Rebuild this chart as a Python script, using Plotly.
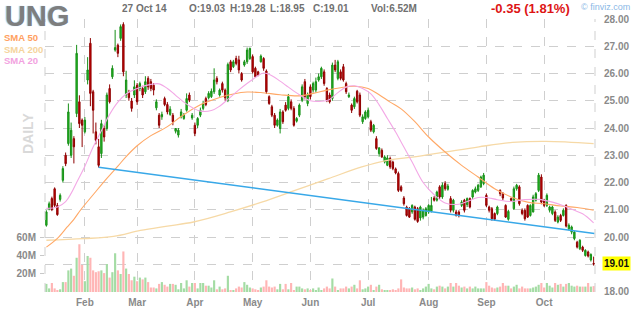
import numpy as np
import pandas as pd
import plotly.graph_objects as go

# ---------------- data ----------------
holidays = ["2014-01-20", "2014-02-17", "2014-04-18", "2014-05-26", "2014-07-04", "2014-09-01"]
dates = [d for d in pd.bdate_range("2014-01-13", "2014-10-27") if d.strftime("%Y-%m-%d") not in holidays]

opens = [20.43, 21.04, 21.41, 21.77, 21.16, 21.38, 22.08, 23.00, 23.43, 23.00,
         23.61, 24.53, 24.96, 24.29, 23.86, 25.76, 27.11, 25.33, 23.86, 23.31,
         23.06, 23.98, 23.98, 25.45, 25.88, 26.86, 27.04, 27.29, 27.80, 25.21,
         25.30, 24.99, 25.21, 25.57, 25.45, 25.45, 25.33, 25.82, 25.70, 25.57,
         24.74, 24.47, 24.41, 25.08, 24.86, 24.50, 24.47, 23.88, 23.74, 24.41,
         24.35, 24.65, 25.21, 24.37, 24.10, 24.10, 24.47, 24.72, 25.08, 25.11,
         25.15, 25.33, 25.82, 25.21, 25.63, 25.39, 25.02, 26.43, 26.25, 26.55,
         26.50, 26.00, 26.31, 26.43, 26.55, 26.62, 26.19, 26.06, 26.43, 26.55,
         26.09, 25.15, 24.78, 24.47, 24.10, 23.98, 24.59, 24.84, 24.72, 24.96,
         24.72, 24.25, 24.47, 25.02, 25.70, 24.90, 25.51, 25.39, 25.39, 25.76,
         25.88, 26.06, 25.45, 25.21, 25.08, 26.31, 25.82, 26.06, 26.25, 25.63,
         25.15, 24.84, 24.78, 25.35, 25.21, 24.23, 24.35, 24.41, 24.23, 23.86,
         23.61, 23.06, 23.18, 22.75, 22.63, 22.88, 22.75, 22.50, 22.33, 21.84,
         21.43, 21.10, 21.04, 20.92, 21.10, 21.04, 20.70, 20.73, 20.79, 20.92,
         20.94, 21.43, 21.35, 21.84, 21.47, 21.96, 21.75, 21.41, 20.98, 20.92,
         20.92, 21.16, 21.35, 21.19, 21.41, 21.47, 21.65, 21.71, 21.84, 21.96,
         21.53, 21.10, 21.04, 20.86, 20.86, 21.71, 21.59, 21.16, 20.65, 21.41,
         21.04, 21.77, 21.84, 20.98, 20.98, 21.16, 20.79, 20.92, 21.35, 21.71,
         22.20, 21.35, 21.16, 20.98, 20.86, 20.92, 20.55, 20.79, 20.79, 21.16,
         20.30, 20.18, 19.94, 19.81, 19.57, 19.63, 19.32, 19.45, 19.16, 19.03]
highs = [20.98, 21.30, 21.48, 21.82, 21.25, 21.60, 22.60, 23.10, 24.90, 24.20,
         23.70, 27.05, 25.20, 24.35, 24.40, 26.60, 27.30, 25.40, 24.20, 23.60,
         24.30, 24.10, 25.30, 25.60, 26.30, 27.60, 27.10, 27.80, 27.88, 26.10,
         25.40, 25.10, 25.75, 25.65, 25.70, 25.55, 25.90, 25.90, 25.80, 25.65,
         25.05, 24.55, 24.60, 25.15, 24.95, 24.80, 24.55, 24.00, 24.00, 24.70,
         24.55, 25.27, 25.30, 24.55, 24.20, 24.40, 24.75, 25.00, 25.15, 25.35,
         25.45, 26.19, 25.90, 25.45, 25.70, 25.45, 26.40, 26.50, 26.50, 26.65,
         26.65, 26.05, 26.50, 26.95, 26.95, 26.70, 26.25, 26.10, 26.70, 26.60,
         26.15, 25.20, 24.85, 24.55, 24.35, 24.70, 24.65, 24.95, 25.25, 25.05,
         24.80, 24.40, 24.90, 25.60, 25.80, 25.30, 25.60, 25.70, 25.85, 26.00,
         26.25, 26.15, 25.50, 25.30, 26.40, 26.50, 26.50, 26.15, 26.35, 25.70,
         25.30, 24.90, 25.15, 25.40, 25.30, 24.50, 24.65, 24.75, 24.30, 24.15,
         23.70, 23.30, 23.25, 23.00, 23.00, 22.95, 22.80, 22.55, 22.40, 21.90,
         21.50, 21.15, 21.10, 21.20, 21.15, 21.10, 21.15, 21.05, 21.10, 21.20,
         21.47, 21.50, 21.70, 21.90, 22.00, 22.05, 21.95, 21.50, 21.40, 21.00,
         20.98, 21.35, 21.40, 21.45, 21.45, 21.75, 21.85, 21.95, 22.25, 22.35,
         21.60, 21.15, 21.10, 20.90, 21.15, 21.75, 21.65, 21.20, 21.00, 21.45,
         21.85, 21.95, 21.90, 21.05, 21.05, 21.20, 21.20, 21.55, 21.65, 22.35,
         22.30, 21.40, 21.60, 21.15, 21.15, 20.98, 20.80, 20.85, 21.05, 21.20,
         20.50, 20.42, 20.22, 19.86, 19.92, 19.68, 19.55, 19.50, 19.40, 19.28]
lows = [20.38, 20.98, 20.95, 21.10, 20.78, 21.30, 22.00, 22.60, 23.35, 22.90,
        22.70, 24.40, 24.00, 23.30, 23.80, 25.60, 24.80, 23.80, 23.40, 22.55,
        22.90, 23.50, 23.90, 24.90, 25.80, 26.80, 26.60, 27.20, 25.90, 25.10,
        25.00, 24.60, 25.10, 24.85, 25.35, 25.10, 25.25, 25.40, 25.35, 25.20,
        24.65, 24.00, 24.30, 24.80, 24.50, 24.45, 24.10, 23.80, 23.65, 24.35,
        24.30, 24.60, 24.95, 24.30, 23.70, 24.00, 24.40, 24.65, 24.80, 25.05,
        25.10, 25.25, 25.60, 25.15, 25.30, 25.00, 24.95, 26.05, 26.20, 26.30,
        26.00, 25.70, 26.25, 26.35, 26.50, 26.00, 25.85, 25.90, 26.40, 26.10,
        25.25, 24.85, 24.40, 24.00, 24.05, 23.80, 24.15, 24.60, 24.65, 24.65,
        24.05, 24.20, 24.40, 24.95, 25.05, 24.80, 25.05, 25.30, 25.30, 25.70,
        25.80, 25.55, 24.95, 24.90, 25.00, 26.05, 25.75, 25.75, 25.70, 25.25,
        25.10, 24.55, 24.70, 24.90, 24.40, 24.15, 24.30, 24.35, 23.85, 23.80,
        23.20, 22.95, 22.90, 22.70, 22.60, 22.50, 22.45, 22.30, 21.65, 21.65,
        21.15, 20.75, 20.70, 20.85, 20.60, 20.52, 20.60, 20.65, 20.75, 20.85,
        20.90, 21.30, 21.30, 21.40, 21.40, 21.70, 21.70, 20.90, 20.90, 20.75,
        20.72, 21.10, 20.90, 21.10, 21.05, 21.40, 21.60, 21.65, 21.80, 21.90,
        21.10, 20.90, 20.60, 20.60, 20.80, 21.50, 21.35, 20.70, 20.60, 21.30,
        21.00, 21.70, 21.15, 20.80, 20.60, 20.70, 20.75, 20.90, 21.30, 21.65,
        21.20, 21.10, 21.10, 20.90, 20.80, 20.55, 20.50, 20.55, 20.75, 20.35,
        20.25, 20.10, 19.88, 19.58, 19.52, 19.45, 19.28, 19.25, 19.10, 18.95]
closes = [20.92, 21.22, 21.01, 21.16, 20.82, 21.53, 22.51, 22.69, 24.59, 23.92,
          23.31, 26.74, 24.16, 24.10, 24.29, 26.13, 25.27, 24.65, 23.55, 22.63,
          24.16, 23.67, 25.21, 24.96, 26.19, 26.95, 26.74, 27.72, 26.06, 25.76,
          25.11, 24.72, 25.51, 24.96, 25.63, 25.21, 25.70, 25.51, 25.45, 25.39,
          24.96, 24.10, 24.50, 24.86, 24.59, 24.69, 24.23, 23.98, 23.92, 24.59,
          24.47, 25.08, 25.02, 24.47, 23.80, 24.35, 24.65, 24.90, 24.86, 25.27,
          25.35, 25.76, 25.70, 25.39, 25.39, 25.11, 26.33, 26.13, 26.43, 26.37,
          26.13, 25.76, 26.43, 26.86, 26.92, 26.06, 25.88, 25.94, 26.64, 26.19,
          25.33, 24.90, 24.47, 24.10, 24.29, 24.59, 24.23, 24.65, 25.15, 24.72,
          24.10, 24.35, 24.84, 25.51, 25.15, 25.21, 25.15, 25.63, 25.70, 25.88,
          26.19, 25.63, 25.02, 24.96, 26.31, 26.13, 26.43, 25.82, 25.76, 25.33,
          25.21, 24.65, 25.08, 24.96, 24.47, 24.41, 24.59, 24.65, 23.92, 24.10,
          23.25, 23.27, 22.94, 22.94, 22.90, 22.57, 22.51, 22.35, 21.71, 21.71,
          21.22, 20.79, 20.73, 21.16, 20.65, 20.57, 21.10, 20.98, 21.04, 21.16,
          21.16, 21.35, 21.65, 21.47, 21.90, 21.77, 21.87, 20.98, 21.35, 20.79,
          20.79, 21.28, 20.98, 21.41, 21.10, 21.71, 21.77, 21.90, 22.20, 22.27,
          21.16, 20.98, 20.67, 20.65, 21.10, 21.59, 21.43, 20.73, 20.94, 21.35,
          21.77, 21.90, 21.22, 20.86, 20.67, 20.73, 21.16, 21.47, 21.59, 22.27,
          21.28, 21.16, 21.53, 21.10, 21.10, 20.61, 20.73, 20.61, 20.98, 20.40,
          20.43, 20.37, 20.18, 19.63, 19.88, 19.51, 19.51, 19.30, 19.36, 19.01]
volume_m = [9, 4, 10, 4, 2, 3, 11, 11, 24, 26, 18, 38, 53, 30, 12, 40, 38, 24, 22, 23,
            24, 21, 31, 16, 22, 43, 24, 20, 45, 26, 20, 13, 17, 12, 16, 14, 16, 11, 5, 5,
            4, 9, 11, 8, 6, 9, 9, 8, 3, 10, 4, 13, 6, 10, 10, 4, 10, 10, 7, 7,
            5, 13, 3, 6, 3, 4, 18, 2, 2, 4, 6, 5, 11, 8, 5, 4, 3, 2, 5, 6,
            13, 6, 5, 6, 3, 9, 3, 9, 3, 10, 2, 6, 6, 4, 3, 4, 2, 4, 2, 5,
            2, 4, 6, 4, 15, 6, 2, 4, 4, 6, 4, 6, 8, 4, 13, 3, 4, 6, 8, 2,
            6, 8, 3, 2, 2, 2, 3, 2, 4, 14, 5, 4, 4, 5, 3, 4, 2, 4, 6, 9,
            4, 3, 6, 7, 6, 4, 6, 10, 6, 10, 7, 5, 6, 4, 6, 4, 6, 4, 4, 4,
            11, 7, 5, 4, 5, 6, 10, 7, 7, 4, 6, 8, 4, 6, 4, 4, 4, 5, 6, 8,
            10, 5, 10, 7, 5, 10, 8, 9, 6, 9, 10, 7, 6, 7, 6, 6, 6, 10, 6, 6.52]

# moving averages at sample trading-day indices
sma20_idx = [0, 4, 7, 9, 11, 14, 17, 20, 23, 26, 29, 33, 38, 41, 44, 47, 50, 53, 56, 60,
             63, 66, 70, 75, 79, 82, 85, 88, 92, 96, 100, 103, 106, 109, 112, 115, 118, 121, 124, 127,
             130, 133, 137, 141, 145, 150, 153, 157, 160, 164, 169, 174, 179, 184, 188, 192, 195, 199]
sma20_val = [21.05, 21.10, 21.30, 21.60, 22.00, 22.60, 23.30, 23.90, 24.50, 24.95, 25.25, 25.45, 25.60, 25.62, 25.45, 25.20, 24.95, 24.75, 24.62, 24.64,
             24.80, 25.05, 25.40, 25.78, 26.02, 25.92, 25.72, 25.50, 25.22, 25.00, 24.98, 25.05, 25.30, 25.50, 25.55, 25.45, 25.25, 24.85, 24.35, 23.85,
             23.30, 22.75, 22.00, 21.55, 21.25, 21.20, 21.30, 21.45, 21.45, 21.37, 21.30, 21.37, 21.38, 21.28, 21.15, 20.98, 20.85, 20.52]
sma50_idx = [0, 4, 7.5, 10, 12.5, 17, 22, 26, 29, 33, 38, 44, 49, 56, 63, 68, 73, 78, 85, 92,
             97, 102, 107, 112, 117, 121, 125, 129, 134, 139, 145, 151, 157, 163, 169, 175, 181, 187, 193, 199]
sma50_val = [19.63, 19.95, 20.36, 20.65, 21.00, 21.55, 22.15, 22.60, 22.95, 23.35, 23.72, 24.05, 24.42, 24.85, 25.12, 25.25, 25.32, 25.30, 25.22, 25.18,
             25.27, 25.39, 25.48, 25.53, 25.45, 25.22, 24.95, 24.70, 24.23, 23.67, 23.12, 22.63, 22.20, 21.77, 21.47, 21.28, 21.22, 21.14, 21.08, 20.98]
sma200_idx = [0, 13.5, 24.4, 34.2, 44, 53.5, 66.9, 78.3, 90.4, 102.5, 114.7, 124.4, 133.8, 145.2, 157.3, 169.5, 181.6, 199]
sma200_val = [19.88, 19.94, 20.02, 20.24, 20.40, 20.55, 20.92, 21.28, 21.71, 22.14, 22.57, 22.82, 22.94, 23.12, 23.31, 23.47, 23.51, 23.43]

trend_idx = [19, 199.3]
trend_val = [22.56, 20.13]

month_labels = ["Feb", "Mar", "Apr", "May", "Jun", "Jul", "Aug", "Sep", "Oct"]
price_ticks = [18, 19, 20, 21, 22, 23, 24, 25, 26, 27, 28]
vol_ticks_m = [20, 40, 60]

# ---------------- figure ----------------
idx = np.arange(len(dates))
month_start = []
for k in range(1, len(dates)):
    if dates[k].month != dates[k - 1].month:
        month_start.append(k)

W, H = 640, 311
ML, MR, MT, MB = 45, 45, 19, 19
PW, PH = W - ML - MR, H - MT - MB

def px(x):
    return (x - ML) / PW

def py(y):
    return (H - MB - y) / PH

FONT = "Arial, Liberation Sans, sans-serif"
GRID = "#cfcfcf"
TICKC = "#8a8a8a"

vol_colors = ["#a4dca4" if c >= o else "#ffb5b5" for o, c in zip(opens, closes)]

fig = go.Figure()
fig.add_trace(go.Bar(x=idx, y=[v * 1e6 for v in volume_m], marker=dict(color=vol_colors, line=dict(width=0)),
                     width=0.78, yaxis="y", hoverinfo="skip"))
fig.add_trace(go.Scatter(x=sma200_idx, y=sma200_val, mode="lines", line=dict(color="#f6d9a6", width=1.3, shape="spline"),
                         yaxis="y2", hoverinfo="skip"))
fig.add_trace(go.Scatter(x=sma50_idx, y=sma50_val, mode="lines", line=dict(color="#ffa866", width=1.1, shape="spline"),
                         yaxis="y2", hoverinfo="skip"))
fig.add_trace(go.Scatter(x=sma20_idx, y=sma20_val, mode="lines", line=dict(color="#f3a8e6", width=1.1, shape="spline"),
                         yaxis="y2", hoverinfo="skip"))
fig.add_trace(go.Scatter(x=trend_idx, y=trend_val, mode="lines", line=dict(color="#38a8e8", width=1.5),
                         yaxis="y2", hoverinfo="skip"))
fig.add_trace(go.Candlestick(x=idx, open=opens, high=highs, low=lows, close=closes, yaxis="y2",
                             increasing=dict(line=dict(color="#178f17", width=1), fillcolor="#22bb22"),
                             decreasing=dict(line=dict(color="#8e0000", width=1), fillcolor="#cc0000"),
                             whiskerwidth=0, hoverinfo="skip"))

fig.update_layout(
    width=W, height=H, margin=dict(l=ML, r=MR, t=MT, b=MB, autoexpand=False),
    paper_bgcolor="white", plot_bgcolor="white", showlegend=False, hovermode=False,
    font=dict(family=FONT),
    xaxis=dict(range=[-0.5, 199.5], tickvals=month_start, ticktext=month_labels, automargin=False,
               showgrid=True, gridcolor=GRID, griddash="dash", gridwidth=1,
               zeroline=False, showline=False, ticks="", ticklabelstandoff=3,
               tickfont=dict(size=10, color=TICKC, weight="bold"),
               rangeslider=dict(visible=False)),
    yaxis=dict(range=[0, 303e6], side="left", tickvals=[v * 1e6 for v in vol_ticks_m], automargin=False,
               ticktext=[f"{v}M" for v in vol_ticks_m], showgrid=False, zeroline=False,
               ticks="outside", ticklen=4, tickcolor="#c8c8c8", ticklabelstandoff=2,
               tickfont=dict(size=10, color=TICKC, weight="bold")),
    yaxis2=dict(range=[28 - PH / 27.25, 28], overlaying="y", side="right", tickvals=price_ticks, automargin=False,
                ticktext=["" if t == 19 else f"{t:.2f}" for t in price_ticks],
                showgrid=True, gridcolor=GRID, griddash="dash", gridwidth=1, zeroline=False,
                ticks="", ticklabelstandoff=8,
                tickfont=dict(size=10, color=TICKC, weight="bold")),
)

# plot-area side borders (dashed)
for xe in (0, 1):
    fig.add_shape(type="line", xref="paper", yref="paper", x0=xe, x1=xe, y0=0, y1=1,
                  line=dict(color=GRID, width=1, dash="dash"))

def label(text, x, y, size, color, bold=True, anchor="left", angle=0, **kw):
    fig.add_annotation(text=text, xref="paper", yref="paper", x=px(x), y=py(y), xanchor=anchor,
                       yanchor="middle", showarrow=False, textangle=angle,
                       font=dict(size=size, color=color, family=FONT, weight="bold" if bold else "normal", **kw))

label("UNG", 3, 16, 29, "#7e7e7e", shadow="-1px 0px 1px #9cc4ea")
label("SMA 50", 2, 38, 9.5, "#ff9f60")
label("SMA 200", 2, 49, 9.5, "#f5d49c")
label("SMA 20", 2, 60, 9.5, "#f2a2e0")
label("DAILY", 28, 134, 14, "#d9d9d9", anchor="center", angle=-90)
label("27 Oct 14", 120, 9, 10, "#707070")
label("O:19.03", 187, 9, 10, "#707070")
label("H:19.28", 228, 9, 10, "#707070")
label("L:18.95", 268, 9, 10, "#707070")
label(f"C:{closes[-1]:.2f}", 311, 9, 10, "#707070")
label(f"Vol:{volume_m[-1]:.2f}M", 369, 9, 10, "#707070")
label("-0.35 (1.81%)", 489, 9, 13, "#dd1515")
label("© finviz.com", 579, 7, 9, "#8ab8e6", bold=False)

fig.add_annotation(text=f"{closes[-1]:.2f}", xref="paper", yref="y2", x=px(602), y=closes[-1],
                   xanchor="left", yanchor="middle", showarrow=False, bgcolor="#ffff00",
                   borderpad=1, font=dict(size=10, color="#111111", family=FONT, weight="bold"))

fig.write_html("out.html")
